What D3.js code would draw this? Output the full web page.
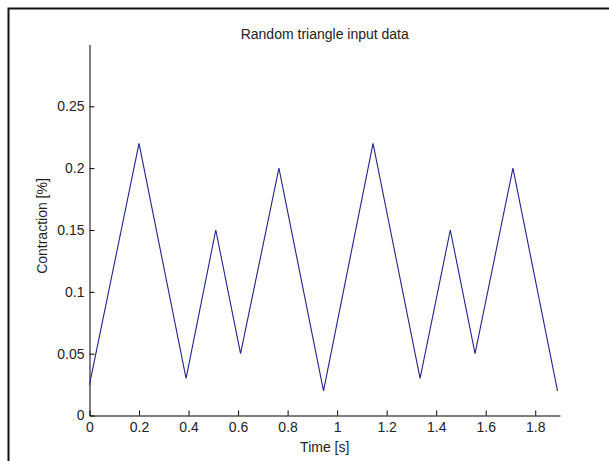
<!DOCTYPE html>
<html>
<head>
<meta charset="utf-8">
<script src="https://cdn.jsdelivr.net/npm/d3@7"></script>
<style>
  html, body { margin: 0; padding: 0; background: #fff; }
  svg { display: block; }
  text { font-family: "Liberation Sans", Arial, sans-serif; fill: #222; }
</style>
</head>
<body>
<svg id="chart" width="609" height="461"></svg>
<script>
// Data
const timeValues = [0, 0.2, 0.39, 0.51, 0.61, 0.765, 0.945, 1.145, 1.335, 1.457, 1.557, 1.71, 1.89];
const contractionValues = [0.025, 0.22, 0.03, 0.15, 0.05, 0.2, 0.02, 0.22, 0.03, 0.15, 0.05, 0.2, 0.02];
const xTicks = [0, 0.2, 0.4, 0.6, 0.8, 1, 1.2, 1.4, 1.6, 1.8];
const yTicks = [0, 0.05, 0.1, 0.15, 0.2, 0.25];
const xDomain = [0, 1.9];
const yDomain = [0, 0.3];
const titleText = "Random triangle input data";
const xLabel = "Time [s]";
const yLabel = "Contraction [%]";

const svg = d3.select("#chart");
const W = 609, H = 461;

// Outer figure frame
svg.append("path")
  .attr("d", `M8.5,${H} L8.5,8.5 L${W},8.5`)
  .attr("fill", "none").attr("stroke", "#111").attr("stroke-width", 2);

const mLeft = 89.5, mRight = 560, mTop = 44.5, mBottom = 415.5;
const x = d3.scaleLinear().domain(xDomain).range([mLeft, mRight]);
const y = d3.scaleLinear().domain(yDomain).range([mBottom, mTop]);

const fmt = d => String(+d.toFixed(2));

// X axis (ticks pointing inward)
const gx = svg.append("g").attr("transform", `translate(0,${mBottom})`)
  .call(d3.axisBottom(x).tickValues(xTicks).tickFormat(fmt).tickSizeInner(-5).tickSizeOuter(0).tickPadding(7));
gx.select(".domain").attr("stroke", "#000");
gx.selectAll(".tick line").attr("stroke", "#000");
gx.selectAll(".tick text").attr("font-size", 14).attr("fill", "#222")
  .attr("font-family", "Liberation Sans, Arial, sans-serif");

// Y axis (ticks pointing inward)
const gy = svg.append("g").attr("transform", `translate(${mLeft},0)`)
  .call(d3.axisLeft(y).tickValues(yTicks).tickFormat(fmt).tickSizeInner(-5).tickSizeOuter(0).tickPadding(5));
gy.select(".domain").attr("stroke", "#000");
gy.selectAll(".tick line").attr("stroke", "#000");
gy.selectAll(".tick text").attr("font-size", 14).attr("fill", "#222")
  .attr("font-family", "Liberation Sans, Arial, sans-serif");

// Data line
const data = timeValues.map((t, i) => ({ t, v: contractionValues[i] }));
svg.append("path")
  .datum(data)
  .attr("fill", "none")
  .attr("stroke", "#23238c")
  .attr("stroke-width", 1.1)
  .attr("d", d3.line().x(d => x(d.t)).y(d => y(d.v)));

// Title
svg.append("text")
  .attr("x", (mLeft + mRight) / 2).attr("y", 39)
  .attr("text-anchor", "middle").attr("font-size", 14)
  .text(titleText);

// X label
svg.append("text")
  .attr("x", (mLeft + mRight) / 2).attr("y", 452)
  .attr("text-anchor", "middle").attr("font-size", 14)
  .text(xLabel);

// Y label
svg.append("text")
  .attr("transform", `translate(47,${(mTop + mBottom) / 2 - 4}) rotate(-90)`)
  .attr("text-anchor", "middle").attr("font-size", 14)
  .text(yLabel);
</script>
</body>
</html>
